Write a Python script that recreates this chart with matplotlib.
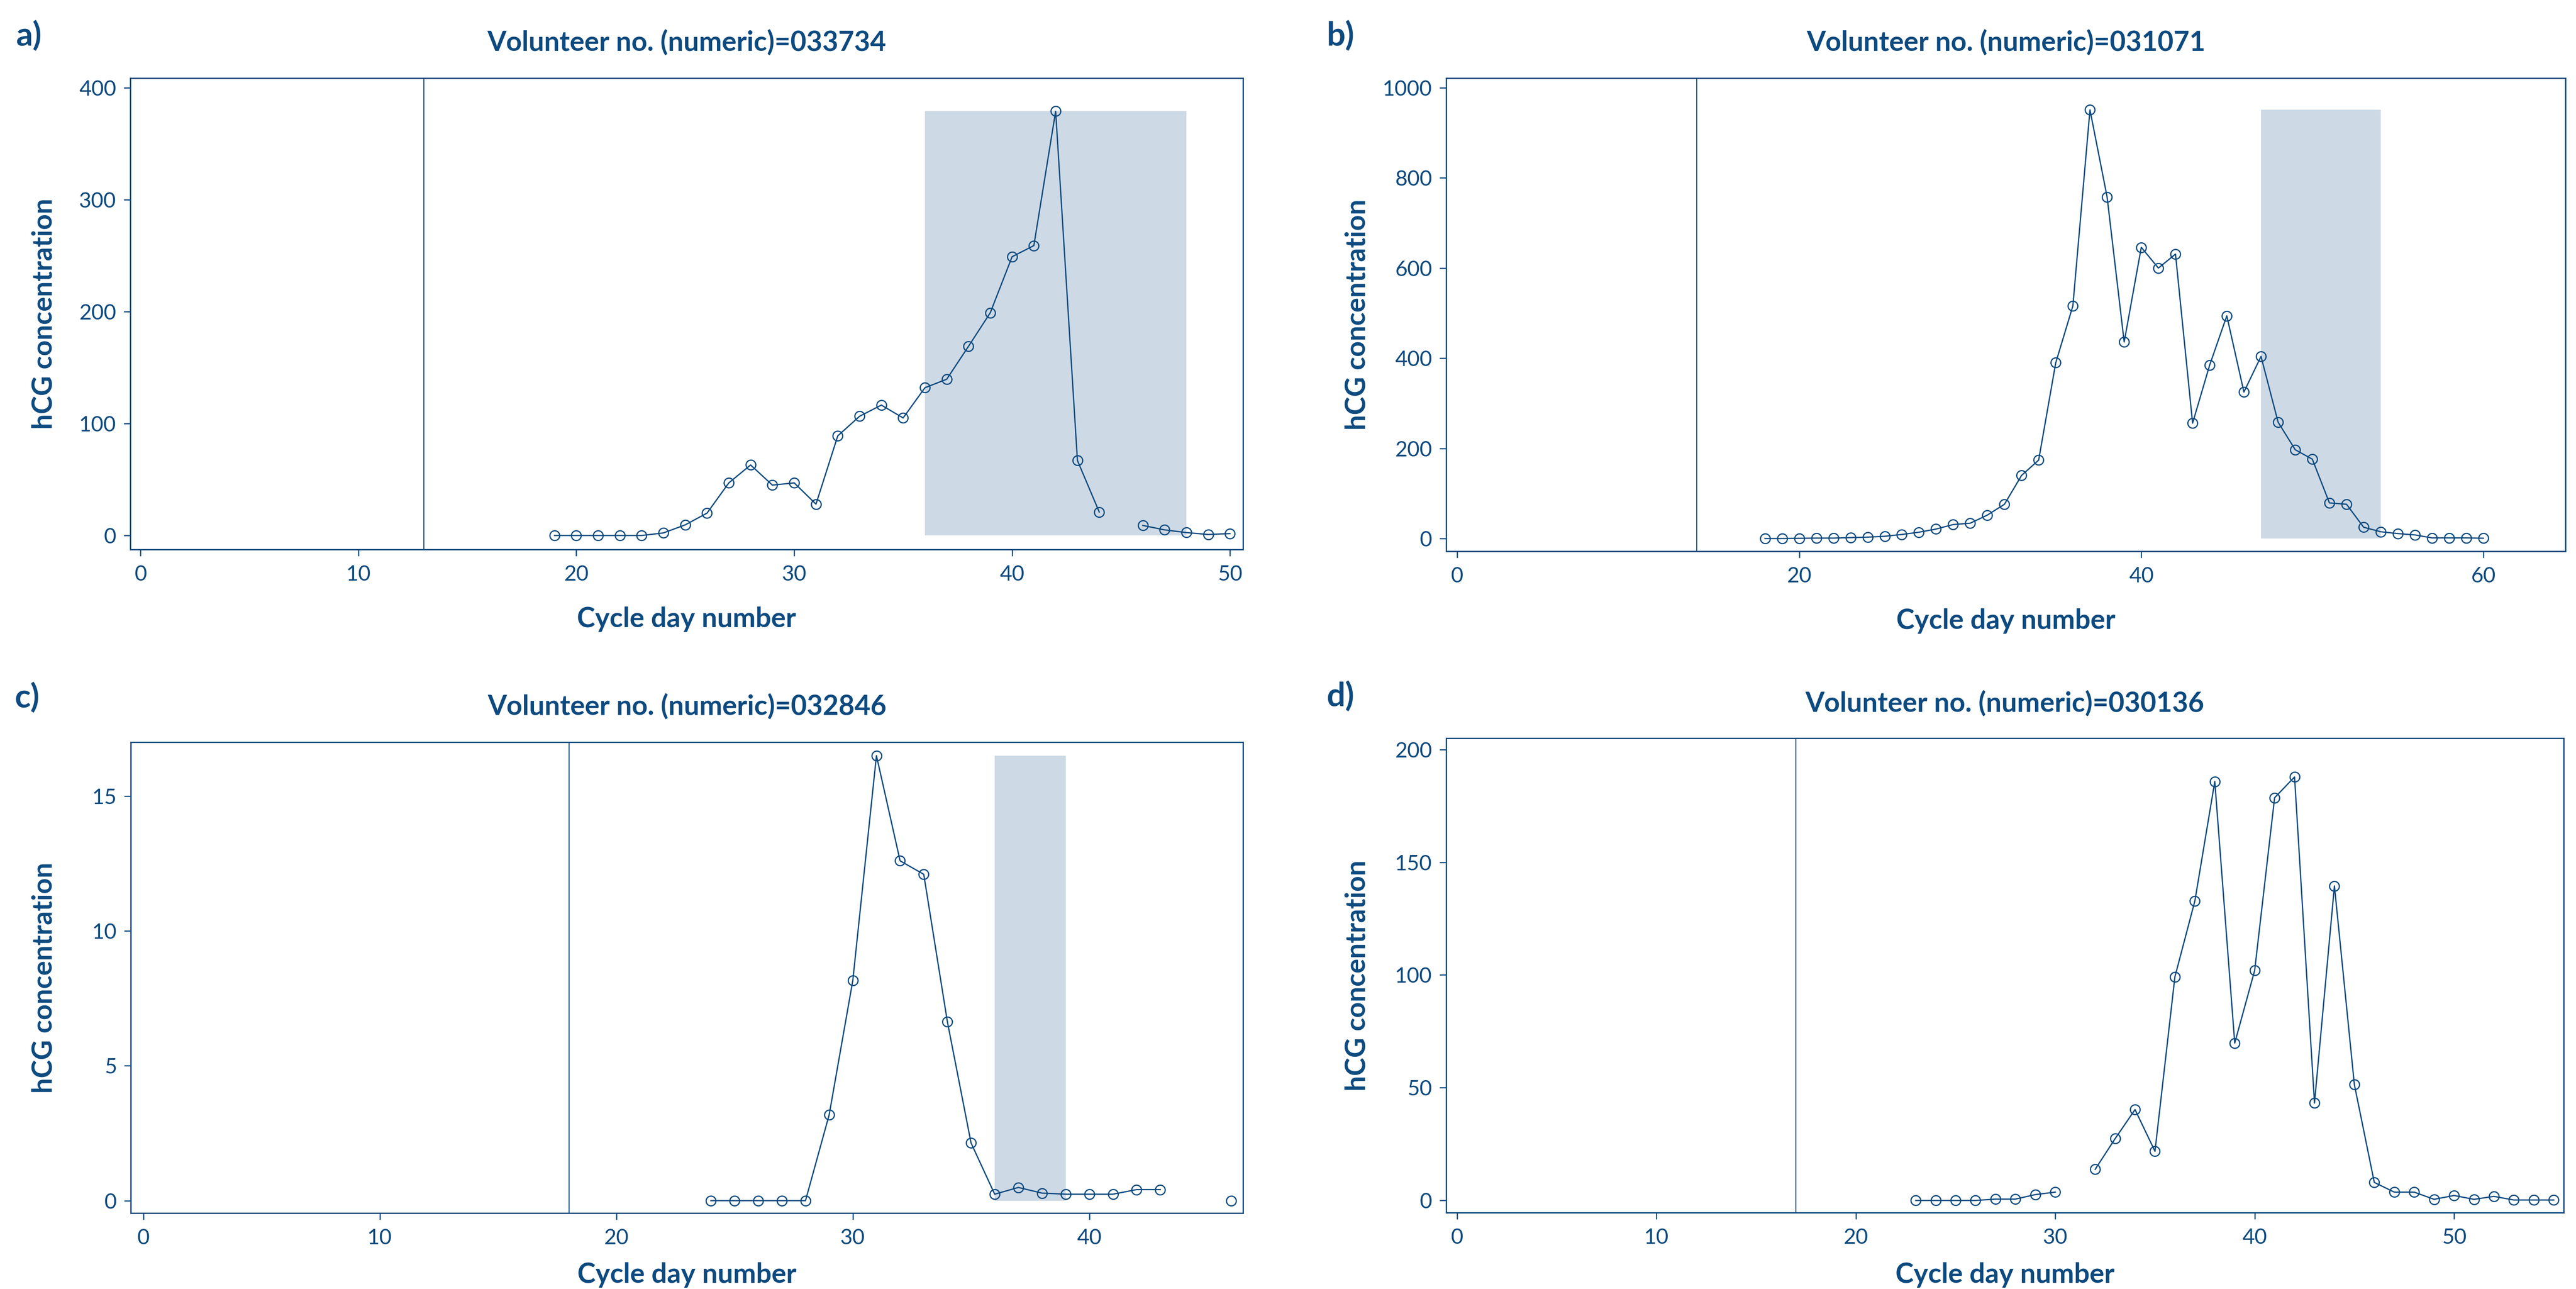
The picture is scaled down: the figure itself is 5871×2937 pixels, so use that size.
import numpy as np
import matplotlib
matplotlib.use("Agg")
import matplotlib.pyplot as plt

plt.rcParams['font.family'] = ['Lato', 'DejaVu Sans']

NAVY = '#0d4a7f'
SHADE = '#cdd9e5'

# ---------------- data ----------------
titles = ["Volunteer no. (numeric)=033734", "Volunteer no. (numeric)=031071",
          "Volunteer no. (numeric)=032846", "Volunteer no. (numeric)=030136"]
panel_labels = ["a)", "b)", "c)", "d)"]

days_a = [19, 20, 21, 22, 23, 24, 25, 26, 27, 28, 29, 30, 31, 32, 33, 34, 35, 36, 37, 38,
          39, 40, 41, 42, 43, 44, 45, 46, 47, 48, 49, 50]
hcg_a = [0, 0, 0, 0, 0, 2.3, 9.5, 20, 47, 63, 45, 47, 28, 89, 106.5, 116.5, 105, 132, 139.6, 169,
         199, 249, 259, 379, 67, 21, np.nan, 9, 5, 2.6, 0.9, 1.7]

days_b = list(range(18, 61))
hcg_b = [0, 0, 0.5, 1, 1, 2, 3, 5, 9, 14, 21, 31, 34, 52, 76, 140, 174, 390, 516, 951,
         758, 436, 646, 600, 631, 256, 385, 494, 325, 404, 258, 197, 176, 79, 76, 25, 15, 11,
         8, 1.4, 1.4, 1.4, 0.7]

days_c = [24, 25, 26, 27, 28, 29, 30, 31, 32, 33, 34, 35, 36, 37, 38, 39, 40, 41, 42, 43, 44, 45, 46]
hcg_c = [0, 0, 0, 0, 0, 3.18, 8.16, 16.5, 12.6, 12.1, 6.63, 2.14, 0.24, 0.49, 0.28, 0.24, 0.24,
         0.24, 0.41, 0.41, np.nan, np.nan, 0.0]

days_d = list(range(23, 56))
hcg_d = [0, 0, 0, 0, 0.6, 0.6, 2.6, 3.7, np.nan, 13.8, 27.4, 40.3, 21.8, 99.2, 132.8, 185.8,
         69.8, 102, 178.6, 187.8, 43.2, 139.5, 51.4, 8, 3.7, 3.7, 0.5, 2.2, 0.5, 1.8, 0.2, 0.2, 0.2]

vlines = [13, 14, 18, 17]
shade_ranges = [(36, 48), (47, 54), (36, 39), None]

xticks = [[0, 10, 20, 30, 40, 50], [0, 20, 40, 60], [0, 10, 20, 30, 40], [0, 10, 20, 30, 40, 50]]
yticks = [[0, 100, 200, 300, 400], [0, 200, 400, 600, 800, 1000], [0, 5, 10, 15],
          [0, 50, 100, 150, 200]]
xlims = [(-0.47, 50.6), (-0.64, 64.8), (-0.53, 46.5), (-0.55, 55.5)]
ylims = [(-12.5, 408.6), (-28.2, 1021.4), (-0.46, 17.0), (-5.4, 205.0)]

days = [days_a, days_b, days_c, days_d]
hcg = [hcg_a, hcg_b, hcg_c, hcg_d]

# ---------------- layout (pixels) ----------------
W, H = 5871, 2937
# left, right, top, bottom
rects = [(297, 2833, 178, 1252), (3296, 5847, 178, 1256),
         (298, 2833, 1691, 2764), (3296, 5843, 1682, 2763)]
title_y = [97, 97, 1610, 1603]
xlabel_y = [1411, 1415, 2905, 2905]
ylabel_x = [101, 3093, 101, 3093]
plabel_x = [36, 3023, 34, 3023]
plabel_y = [82, 82, 1590, 1587]

fig = plt.figure(figsize=(W / 100, H / 100), dpi=100)

for i in range(4):
    l, r, t, b = rects[i]
    ax = fig.add_axes([l / W, 1 - b / H, (r - l) / W, (b - t) / H])
    x = np.array(days[i], dtype=float)
    y = np.array(hcg[i], dtype=float)
    if shade_ranges[i] is not None:
        s0, s1 = shade_ranges[i]
        ax.fill_between([s0, s1], [0, 0], [np.nanmax(y)] * 2, color=SHADE, lw=0, zorder=1)
    ax.axvline(vlines[i], color=NAVY, lw=1.6, zorder=2)
    ax.plot(x, y, color=NAVY, lw=2.1, marker='o', markersize=16, markerfacecolor='none',
            markeredgecolor=NAVY, markeredgewidth=2.0, zorder=3)
    ax.set_xlim(*xlims[i])
    ax.set_ylim(*ylims[i])
    ax.set_xticks(xticks[i])
    ax.set_yticks(yticks[i])
    for sp in ax.spines.values():
        sp.set_color(NAVY)
        sp.set_linewidth(2.2)
    ax.tick_params(axis='both', colors=NAVY, labelcolor=NAVY, length=11, width=1.9,
                   labelsize=35, direction='out')
    ax.tick_params(axis='x', pad=14)
    ax.tick_params(axis='y', pad=12)
    cx = (l + r) / 2
    cy = (t + b) / 2
    fig.text(cx / W, 1 - title_y[i] / H, titles[i], ha='center', va='center',
             fontsize=45, fontweight='bold', color=NAVY)
    fig.text(cx / W, 1 - xlabel_y[i] / H, "Cycle day number", ha='center', va='center',
             fontsize=45, fontweight='bold', color=NAVY)
    fig.text(ylabel_x[i] / W, 1 - cy / H, "hCG concentration", ha='center', va='center',
             rotation=90, fontsize=45, fontweight='bold', color=NAVY)
    fig.text(plabel_x[i] / W, 1 - plabel_y[i] / H, panel_labels[i], ha='left', va='center',
             fontsize=54, fontweight='bold', color=NAVY)

fig.savefig("out.png", dpi=100, facecolor='white')
